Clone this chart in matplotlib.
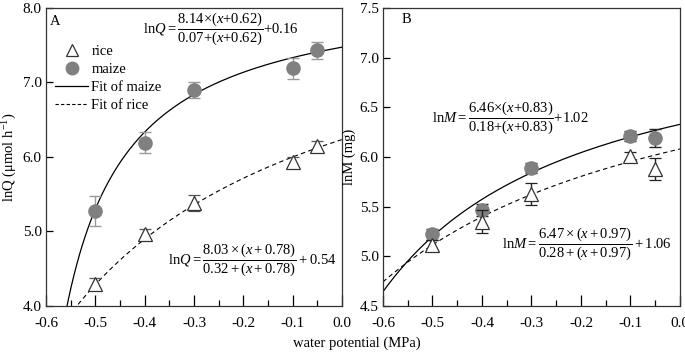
import numpy as np
import matplotlib
matplotlib.use('Agg')
import matplotlib.pyplot as plt
from matplotlib.lines import Line2D
from matplotlib.ticker import MultipleLocator

plt.rcParams['font.family'] = ['Liberation Serif', 'DejaVu Serif']
plt.rcParams['mathtext.fontset'] = 'custom'
plt.rcParams['mathtext.rm'] = 'Liberation Serif'
plt.rcParams['mathtext.it'] = 'Liberation Serif:italic'
plt.rcParams['font.size'] = 10

# water potential (MPa)
x_pts = [-0.5, -0.4, -0.3, -0.1, -0.05]

# panel A: lnQ
q_maize = [5.27, 6.19, 6.90, 7.19, 7.43]
q_maize_err = [0.20, 0.14, 0.11, 0.14, 0.11]
q_rice = [4.30, 4.96, 5.38, 5.93, 6.15]
q_rice_err = [0.07, 0.07, 0.11, 0.07, 0.07]

# panel B: lnM
m_maize = [5.22, 5.47, 5.89, 6.21, 6.19]
m_maize_err = [0.06, 0.06, 0.05, 0.05, 0.09]
m_rice = [5.11, 5.35, 5.63, 6.01, 5.88]
m_rice_err = [0.05, 0.12, 0.11, 0.04, 0.11]

# fit parameters: y = a*(x+b)/(c+(x+b)) + d
fit_q_maize = [8.14, 0.62, 0.07, 0.16]
fit_q_rice = [8.03, 0.78, 0.32, 0.54]
fit_m_maize = [6.46, 0.83, 0.18, 1.02]
fit_m_rice = [6.47, 0.97, 0.28, 1.06]


def fit_curve(p, x0):
    a, b, c, d = p
    xs = np.linspace(x0, 0, 300)
    return xs, a * (xs + b) / (c + (xs + b)) + d


def equation(name, p, tight=False):
    a, b, c, d = p
    if tight:
        s = (r'$\mathrm{ln}\mathit{%s}{=}\dfrac{%.2f{\times}(\mathit{x}{+}%.2f)}{%.2f{+}(\mathit{x}{+}%.2f)}{+}%.2f$'
             % (name, a, b, c, b, d))
    else:
        s = (r'$\mathrm{ln}\mathit{%s}=\dfrac{%.2f\times(\mathit{x}+%.2f)}{%.2f+(\mathit{x}+%.2f)}+%.2f$'
             % (name, a, b, c, b, d))
    return s


fig = plt.figure(figsize=(6.85, 3.54), dpi=100)
axA = fig.add_axes([0.0672, 0.1356, 0.4321, 0.8418])
axB = fig.add_axes([0.5591, 0.1356, 0.4336, 0.8418])

maize_color = '#808080'

for ax, maize, maize_err, rice, rice_err, fm, fr, ecol_m, ecol_r in [
        (axA, q_maize, q_maize_err, q_rice, q_rice_err, fit_q_maize, fit_q_rice, '#9a9a9a', '#555555'),
        (axB, m_maize, m_maize_err, m_rice, m_rice_err, fit_m_maize, fit_m_rice, '#222222', '#222222')]:
    xs, ys = fit_curve(fm, -0.6 if ax is axB else -0.56)
    ax.plot(xs, ys, color='black', lw=0.9, zorder=2)
    xs, ys = fit_curve(fr, -0.6)
    ax.plot(xs, ys, color='black', lw=0.8, ls=(0, (4, 3)), zorder=2)
    ax.errorbar(x_pts, maize, yerr=maize_err, fmt='o', ms=9.5, color=maize_color,
                mec=maize_color, ecolor=ecol_m, elinewidth=1, capsize=4, zorder=3)
    ax.errorbar(x_pts, rice, yerr=rice_err, fmt='^', ms=10, mfc='white', mec='#333333',
                mew=0.9, ecolor=ecol_r, elinewidth=1, capsize=4, zorder=4)
    ax.set_xlim(-0.6, 0.0)
    ax.xaxis.set_major_locator(MultipleLocator(0.1))
    ax.xaxis.set_minor_locator(MultipleLocator(0.05))
    ax.xaxis.set_major_formatter(lambda v, pos: '%.1f' % v)
    ax.yaxis.set_major_formatter(lambda v, pos: '%.1f' % v)
    ax.tick_params(axis='x', which='major', direction='in', length=8, width=0.9, labelsize=11, pad=8)
    ax.tick_params(axis='x', which='minor', direction='in', length=4, width=0.9)
    ax.tick_params(axis='y', which='major', direction='in', length=5, width=0.9, labelsize=11, pad=3)
    for s in ax.spines.values():
        s.set_linewidth(0.9)
        s.set_color('#333333')

axA.set_ylim(4.0, 8.0)
axA.yaxis.set_major_locator(MultipleLocator(1.0))
axA.set_ylabel(r'lnQ ($\mathrm{\mu}$mol h$^{-1}$)', fontsize=10.5, labelpad=3)
axA.text(-0.592, 7.82, 'A', fontsize=10.5, va='center', ha='left')
axA.text(-0.404, 7.73, equation('Q', fit_q_maize, tight=True), fontsize=10.5, va='center', ha='left')
axA.text(-0.352, 4.62, equation('Q', fit_q_rice), fontsize=10.5, va='center', ha='left')

handles = [
    Line2D([], [], marker='^', ls='none', ms=9, mfc='white', mec='#333333', mew=0.9),
    Line2D([], [], marker='o', ls='none', ms=9, color=maize_color),
    Line2D([], [], color='black', lw=0.9),
    Line2D([], [], color='black', lw=0.8, ls=(0, (3, 2))),
]
axA.legend(handles, ['rice', 'maize', 'Fit of maize', 'Fit of rice'], loc='upper left',
           bbox_to_anchor=(0.0, 0.905), frameon=False, fontsize=10.5, handlelength=2.3,
           handletextpad=0.2, labelspacing=0.33, borderaxespad=0.2)

axB.set_ylim(4.5, 7.5)
axB.yaxis.set_major_locator(MultipleLocator(0.5))
axB.set_ylabel('lnM (mg)', fontsize=10.5, labelpad=3)
axB.text(-0.5615, 7.38, 'B', fontsize=10.5, va='center', ha='left')
axB.text(-0.501, 6.40, equation('M', fit_m_maize, tight=True), fontsize=10.5, va='center', ha='left')
axB.text(-0.360, 5.13, equation('M', fit_m_rice), fontsize=10.5, va='center', ha='left')

fig.text(0.521, 0.03, 'water potential (MPa)', ha='center', va='center', fontsize=10.5)

fig.savefig('out.png', dpi=100)
